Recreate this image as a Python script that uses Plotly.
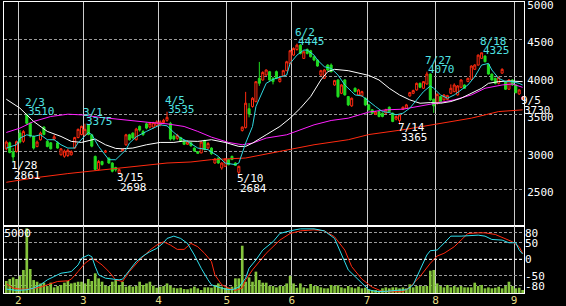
import pandas as pd
import plotly.graph_objects as go
from plotly.subplots import make_subplots

# ---------------- data ----------------
holidays = ["2011-02-11", "2011-03-21", "2011-04-29", "2011-05-03",
            "2011-05-04", "2011-05-05", "2011-07-18"]
dates = pd.bdate_range("2011-01-26", "2011-09-05", freq="C", holidays=holidays)
day = list(range(len(dates)))

opens = [3040, 3120, 3000, 3005, 3250, 3140, 3490, 3380, 3205, 3070, 3160, 3330, 3140, 3120, 3170, 3120,
         2960, 2940, 2950, 2960, 3050, 3190, 3230, 3220, 3360, 3227, 2938, 2765, 2870, 2995, 2915, 2850,
         2790, 2717, 3015, 3094, 3227, 3249, 3161, 3340, 3270, 3373, 3330, 3330, 3350, 3360, 3390, 3420,
         3380, 3210, 3180, 3190, 3140, 3100, 3120, 3050, 3000, 2985, 3150, 3050, 3050, 2850, 2917, 2784,
         2806, 2895, 2939, 2850, 2726, 3285, 3325, 3575, 3604, 3670, 3981, 3958, 4025, 4069, 3981, 4070,
         3937, 4012, 4083, 4180, 4291, 4366, 4424, 4247, 4366, 4349, 4269, 4225, 4025, 3981, 4158, 4158,
         3892, 3959, 3781, 3959, 3737, 3613, 3848, 3759, 3746, 3715, 3626, 3560, 3500, 3537, 3515, 3515,
         3595, 3515, 3436, 3418, 3569, 3582, 3746, 3781, 3826, 3914, 3848, 3905, 4038, 3702, 3648, 3737,
         3693, 3700, 3781, 3803, 3759, 3861, 3892, 3937, 3967, 4101, 4158, 4247, 4278, 4167, 4038, 3981,
         3914, 4050, 3937, 3835, 3959, 3892, 3772, 3700]
highs = [3150, 3135, 3050, 3150, 3290, 3290, 3510, 3400, 3220, 3150, 3270, 3340, 3160, 3130, 3230, 3140,
         3050, 3030, 3040, 3020, 3200, 3310, 3350, 3375, 3370, 3240, 2950, 2890, 2880, 3025, 2925, 2860,
         2800, 2775, 3045, 3240, 3240, 3260, 3320, 3350, 3290, 3390, 3400, 3400, 3420, 3420, 3440, 3535,
         3400, 3230, 3240, 3200, 3150, 3150, 3130, 3060, 3010, 3140, 3160, 3130, 3060, 2915, 2925, 2860,
         2910, 2905, 2950, 2860, 2815, 3340, 3800, 3650, 3730, 3940, 4200, 4075, 4100, 4080, 4000, 4085,
         3990, 4095, 4215, 4360, 4395, 4445, 4440, 4350, 4380, 4360, 4280, 4235, 4095, 4105, 4170, 4180,
         3960, 3970, 3905, 3970, 3745, 3725, 3860, 3840, 3815, 3725, 3640, 3570, 3545, 3550, 3525, 3575,
         3605, 3525, 3480, 3500, 3605, 3640, 3800, 3830, 3925, 3925, 3945, 4070, 4045, 3710, 3780, 3745,
         3770, 3760, 3900, 3914, 3890, 3970, 3900, 3990, 4155, 4170, 4300, 4325, 4290, 4175, 4045, 3990,
         4005, 4115, 3945, 3970, 3970, 3900, 3835, 3745]
lows = [3020, 2980, 2861, 2990, 3110, 3120, 3360, 3190, 3030, 3060, 3150, 3220, 3060, 3030, 3150, 3040,
        2950, 2920, 2930, 2950, 3040, 3180, 3220, 3210, 3220, 3060, 2750, 2750, 2815, 2985, 2840, 2725,
        2735, 2698, 3005, 3080, 3150, 3175, 3150, 3270, 3210, 3300, 3310, 3310, 3340, 3340, 3370, 3400,
        3150, 3150, 3160, 3130, 3090, 3090, 3070, 3000, 2970, 2980, 3020, 3040, 2960, 2840, 2840, 2760,
        2800, 2820, 2890, 2810, 2684, 3270, 3310, 3460, 3590, 3660, 3880, 3950, 4015, 3950, 3900, 3970,
        3925, 4000, 4075, 4170, 4280, 4350, 4300, 4240, 4300, 4260, 4210, 4135, 4010, 3970, 4080, 4060,
        3880, 3720, 3770, 3750, 3610, 3600, 3795, 3750, 3740, 3610, 3550, 3500, 3490, 3460, 3460, 3505,
        3525, 3395, 3420, 3365, 3560, 3575, 3735, 3770, 3815, 3850, 3840, 3895, 3680, 3520, 3630, 3660,
        3685, 3690, 3770, 3795, 3750, 3850, 3840, 3930, 3960, 4095, 4150, 4240, 4195, 4030, 3950, 3900,
        3900, 4040, 3825, 3825, 3880, 3780, 3760, 3690]
closes = [3130, 2990, 2930, 3135, 3130, 3270, 3380, 3210, 3050, 3130, 3250, 3230, 3070, 3040, 3200, 3050,
          3040, 3010, 3020, 3000, 3190, 3300, 3340, 3300, 3230, 3075, 2765, 2870, 2830, 3010, 2850, 2740,
          2760, 2761, 3030, 3227, 3160, 3183, 3303, 3290, 3230, 3316, 3380, 3390, 3400, 3400, 3420, 3460,
          3170, 3170, 3220, 3140, 3100, 3130, 3080, 3010, 2980, 3130, 3030, 3110, 2975, 2905, 2850, 2850,
          2904, 2828, 2895, 2819, 2806, 3329, 3649, 3506, 3715, 3936, 3915, 4060, 4092, 3958, 3937, 3981,
          3981, 4083, 4202, 4349, 4380, 4424, 4313, 4335, 4313, 4269, 4225, 4145, 4083, 4092, 4092, 4070,
          3950, 3737, 3892, 3759, 3626, 3715, 3803, 3826, 3803, 3626, 3560, 3515, 3530, 3471, 3471, 3560,
          3537, 3405, 3471, 3493, 3595, 3626, 3790, 3817, 3914, 3861, 3937, 4038, 3693, 3613, 3768, 3671,
          3759, 3750, 3848, 3892, 3879, 3959, 3848, 3981, 4145, 4158, 4291, 4322, 4202, 4038, 3959, 3914,
          3994, 4101, 3835, 3959, 3892, 3790, 3826, 3730]
volume = [1000, 1170, 1300, 1170, 1420, 1920, 5390, 2000, 1080, 940, 800, 860, 580, 860, 470, 580,
          670, 860, 1000, 800, 860, 940, 940, 800, 1170, 1000, 1640, 1220, 940, 610, 580, 940,
          1080, 670, 940, 530, 610, 530, 580, 940, 670, 800, 940, 610, 440, 530, 580, 800,
          610, 440, 390, 440, 330, 310, 390, 530, 390, 250, 470, 470, 440, 670, 800, 530,
          440, 440, 530, 1220, 1220, 3940, 940, 1300, 940, 1780, 1080, 860, 860, 580, 580, 470,
          580, 580, 800, 1420, 800, 440, 800, 470, 390, 750, 580, 580, 470, 390, 390, 670,
          580, 640, 470, 390, 580, 470, 390, 530, 390, 440, 300, 250, 250, 190, 390, 470,
          390, 470, 470, 390, 470, 390, 720, 470, 580, 580, 580, 580, 1860, 1920, 800, 580,
          470, 670, 470, 580, 470, 580, 470, 470, 470, 860, 580, 670, 390, 470, 390, 440,
          530, 390, 580, 940, 580, 390, 440, 250]

# moving averages (sample day, value)
ma_short_day = [0, 3, 4, 6, 8, 10, 12, 14, 16, 18, 20, 21, 24, 25, 27, 29, 30, 32, 33, 35, 36, 38, 41, 43,
                45, 47, 49, 51, 53, 56, 59, 62, 64, 67, 68, 70, 72, 73, 75, 76, 78, 80, 82, 83, 85, 87,
                88, 90, 91, 93, 95, 97, 99, 101, 102, 104, 106, 108, 110, 112, 114, 116, 118, 120, 122,
                124, 125, 127, 129, 131, 133, 135, 137, 139, 141, 142, 144, 146, 148, 150, 151]
ma_short = [3050, 3094, 3183, 3227, 3205, 3227, 3161, 3161, 3094, 3050, 3050, 3120, 3258, 3230, 3071, 2960,
            2894, 2894, 2938, 3027, 3116, 3200, 3272, 3316, 3360, 3347, 3258, 3183, 3139, 3050, 3028,
            2939, 2850, 2828, 2850, 3116, 3338, 3604, 3826, 3914, 3967, 3994, 4025, 4180, 4291, 4358,
            4358, 4291, 4225, 4136, 4114, 4025, 3892, 3803, 3759, 3746, 3670, 3604, 3537, 3524, 3493,
            3515, 3582, 3693, 3803, 3879, 3848, 3759, 3715, 3759, 3826, 3892, 4003, 4158, 4180, 4092,
            3981, 3937, 3937, 3914, 3892]
ma_mid_day = [0, 4, 8, 12, 16, 19, 22, 26, 29, 32, 34, 37, 41, 45, 49, 52, 56, 60, 64, 68, 70, 72, 76, 80,
              83, 86, 89, 92, 94, 96, 100, 103, 106, 109, 112, 115, 118, 121, 124, 127, 130, 133, 136,
              139, 141, 144, 147, 151]
ma_mid = [3702, 3582, 3405, 3272, 3205, 3139, 3125, 3170, 3094, 3045, 3040, 3050, 3094, 3125, 3125, 3145,
          3139, 3161, 3125, 3072, 3072, 3116, 3227, 3338, 3449, 3582, 3737, 3959, 4070, 4101, 4083, 4056,
          4020, 3959, 3848, 3759, 3693, 3648, 3657, 3648, 3671, 3715, 3781, 3848, 3914, 3937, 3945, 3937]
ma_long_day = [0, 4, 8, 13, 18, 22, 27, 32, 37, 42, 47, 52, 56, 60, 65, 69, 72, 76, 82, 86, 90, 95, 100,
               106, 111, 116, 121, 126, 131, 136, 140, 145, 148, 151]
ma_long = [3258, 3316, 3405, 3471, 3502, 3493, 3462, 3436, 3418, 3391, 3373, 3338, 3272, 3196, 3125, 3094,
           3116, 3183, 3227, 3294, 3360, 3418, 3449, 3530, 3560, 3569, 3613, 3657, 3693, 3759, 3848, 3892,
           3905, 3861]
ma_trend_day = [0, 8, 18, 27, 37, 47, 54, 60, 70, 80, 90, 100, 106, 116, 126, 136, 144, 151]
ma_trend = [2593, 2651, 2709, 2753, 2797, 2850, 2864, 2895, 2917, 3006, 3094, 3161, 3230, 3294, 3373, 3449,
            3537, 3560]

# oscillator (lower panel)
osc_k_day = [0, 3, 6, 8, 10, 12, 14, 16, 18, 19, 21, 22, 24, 25, 26, 27, 29, 31, 33, 34, 36, 38, 40, 42, 44,
             46, 47, 49, 51, 53, 55, 57, 59, 60, 62, 64, 66, 68, 70, 71, 73, 75, 78, 80, 83, 86, 90, 93,
             96, 98, 100, 102, 104, 106, 108, 111, 114, 117, 119, 121, 123, 124, 126, 127, 129, 130,
             133, 136, 138, 140, 142, 145, 147, 149, 150, 151]
osc_k = [-90, -94, -92, -87, -77, -62, -52, -42, -39, -37, -17, 3, 13, 8, -22, -47, -57, -60, -62, -60, -32,
         -7, 10, 23, 33, 50, 63, 70, 63, 48, 13, -27, -62, -77, -84, -90, -92, -84, -57, -27, -2, 28,
         53, 78, 86, 92, 92, 86, 63, 18, -32, -52, -72, -92, -97, -97, -94, -92, -77, -32, 13, 26, 28,
         38, 58, 70, 70, 71, 73, 70, 60, 58, 50, 50, 28, 16]
osc_d_day = [0, 2, 4, 7, 10, 12, 15, 18, 19, 21, 23, 25, 26, 28, 30, 32, 34, 36, 39, 42, 44, 46, 48, 50, 52,
             54, 56, 58, 60, 61, 63, 65, 67, 69, 70, 72, 74, 76, 78, 80, 83, 86, 90, 93, 96, 99, 101,
             104, 107, 110, 113, 116, 118, 121, 124, 126, 128, 131, 133, 135, 138, 140, 143, 146, 148,
             150, 151]
osc_d = [-74, -87, -90, -90, -84, -77, -67, -65, -60, -37, -12, 3, -2, -17, -37, -62, -67, -37, -2, 28, 43,
         53, 43, 30, 30, 48, 38, 18, -7, -47, -77, -87, -94, -87, -62, -32, -7, 18, 38, 58, 78, 86, 89,
         86, 68, 28, -22, -60, -84, -97, -98, -98, -84, -52, -12, 10, 18, 38, 58, 78, 80, 80, 75, 63,
         53, 38, 18]

high_marks = [("2/3", 3510), ("3/1", 3375), ("4/5", 3535), ("6/2", 4445), ("7/27", 4070), ("8/18", 4325)]
low_marks = [("1/28", 2861), ("3/15", 2698), ("5/10", 2684), ("7/14", 3365)]
last_mark = ("9/5", 3730)

month_labels = ["2", "3", "4", "5", "6", "7", "8", "9"]
price_ticks = [2500, 3000, 3500, 4000, 4500, 5000]
osc_ticks = [80, 50, 0, -50, -80]
osc_tick_text = ["80", "50", "0", "-50", "-80"]
vol_ticks = [5000]

# ---------------- styling ----------------
FONT = "DejaVu Sans Mono"
WHITE = "#ffffff"
CYAN_TXT = "#4fe3e3"
GRID_DASH = "3px,2px"

def md(d):
    return f"{d.month}/{d.day}"

date_key = [md(d) for d in dates]
month_first = []
for k, d in enumerate(dates):
    if k > 0 and d.month != dates[k - 1].month:
        month_first.append(k - 0.5)

fig = make_subplots(rows=2, cols=1, shared_xaxes=True, vertical_spacing=0,
                    row_heights=[0.7698, 0.2302],
                    specs=[[{}], [{"secondary_y": True}]])

fig.add_trace(go.Scatter(x=ma_trend_day, y=ma_trend, mode="lines",
                         line=dict(color="#ff2a10", width=1), hoverinfo="skip"), row=1, col=1)
fig.add_trace(go.Scatter(x=ma_long_day, y=ma_long, mode="lines",
                         line=dict(color="#ff20ff", width=1), hoverinfo="skip"), row=1, col=1)
fig.add_trace(go.Scatter(x=ma_mid_day, y=ma_mid, mode="lines",
                         line=dict(color="#ffffff", width=1), hoverinfo="skip"), row=1, col=1)
fig.add_trace(go.Scatter(x=ma_short_day, y=ma_short, mode="lines",
                         line=dict(color="#30d8e0", width=1), hoverinfo="skip"), row=1, col=1)

fig.add_trace(go.Candlestick(
    x=day, open=opens, high=highs, low=lows, close=closes,
    increasing=dict(line=dict(color="#ff2a10", width=1), fillcolor="#000000"),
    decreasing=dict(line=dict(color="#20dc20", width=1), fillcolor="#20dc20"),
    whiskerwidth=0, name="price"), row=1, col=1)

fig.add_trace(go.Bar(x=day, y=volume, marker=dict(color="#84c43c", line=dict(width=0)),
                     width=0.78, hoverinfo="skip"), row=2, col=1, secondary_y=False)
fig.add_trace(go.Scatter(x=osc_d_day, y=osc_d, mode="lines",
                         line=dict(color="#ff2a10", width=1), hoverinfo="skip"),
              row=2, col=1, secondary_y=True)
fig.add_trace(go.Scatter(x=osc_k_day, y=osc_k, mode="lines",
                         line=dict(color="#30e0ee", width=1), hoverinfo="skip"),
              row=2, col=1, secondary_y=True)

ann = []
for label, val in high_marks:
    k = date_key.index(label)
    ann.append(dict(x=k, y=val, xref="x", yref="y", text=label, showarrow=False,
                    xanchor="left", yanchor="middle", xshift=-4, yshift=11.5,
                    font=dict(family=FONT, size=11, color=CYAN_TXT)))
    ann.append(dict(x=k, y=val, xref="x", yref="y", text=str(val), showarrow=False,
                    xanchor="left", yanchor="middle", xshift=-1, yshift=2,
                    font=dict(family=FONT, size=11, color=CYAN_TXT)))
for label, val in low_marks + [last_mark]:
    k = date_key.index(label)
    ann.append(dict(x=k, y=val, xref="x", yref="y", text=label, showarrow=False,
                    xanchor="left", yanchor="middle", xshift=-4, yshift=-3.5,
                    font=dict(family=FONT, size=11, color=WHITE)))
    ann.append(dict(x=k, y=val, xref="x", yref="y", text=str(val), showarrow=False,
                    xanchor="left", yanchor="middle", xshift=-1, yshift=-13,
                    font=dict(family=FONT, size=11, color=WHITE)))

xr = [-0.67, 151.4]
common_x = dict(range=xr, domain=[0, 1], tickvals=month_first, ticktext=month_labels, showgrid=True,
                gridcolor="#cccccc", gridwidth=1, zeroline=False, showline=True, mirror=True,
                linecolor=WHITE, linewidth=1, ticks="", fixedrange=True, automargin=False)

fig.update_layout(
    width=566, height=306,
    margin=dict(l=4, r=42, t=2, b=13, autoexpand=False),
    paper_bgcolor="#000000", plot_bgcolor="#000000",
    showlegend=False,
    boxgap=0.15,
    annotations=ann,
    font=dict(family=FONT, size=11, color=WHITE),
)
fig.update_xaxes(**common_x)
fig.update_layout(
    xaxis=dict(showticklabels=False, rangeslider=dict(visible=False)),
    xaxis2=dict(showticklabels=True, ticklabelstandoff=-3, ticklabeloverflow="allow",
                tickfont=dict(family=FONT, size=11, color="#e8de86")),
    yaxis=dict(range=[2009, 5000], side="right", tickvals=price_ticks, showgrid=True,
               gridcolor="#9a9a9a", griddash=GRID_DASH, gridwidth=1, zeroline=False,
               showline=True, mirror=True, linecolor=WHITE, ticks="", automargin=False,
               ticklabelshift=3, ticklabeloverflow="allow",
               tickfont=dict(family=FONT, size=11, color=WHITE), fixedrange=True),
    yaxis2=dict(range=[0, 5583], side="left", tickvals=vol_ticks, ticktext=["5000"],
                ticklabelposition="outside", ticklabelstandoff=-30, ticklabeloverflow="allow",
                showgrid=False, zeroline=False, automargin=False,
                showline=True, mirror=True, linecolor=WHITE, ticks="",
                tickfont=dict(family=FONT, size=11, color=WHITE), fixedrange=True),
    yaxis3=dict(range=[-101.8, 100.6], side="right", tickvals=osc_ticks, ticktext=osc_tick_text,
                showgrid=True, gridcolor="#9a9a9a", griddash=GRID_DASH, gridwidth=1,
                zeroline=False, showline=False, ticks="", automargin=False,
                tickfont=dict(family=FONT, size=11, color=WHITE), fixedrange=True),
)

fig.add_shape(type="line", xref="x2 domain", yref="y3", x0=0, x1=1, y0=0, y1=0,
              line=dict(color=WHITE, width=1, dash=GRID_DASH), layer="above")

fig.write_html("out.html")
